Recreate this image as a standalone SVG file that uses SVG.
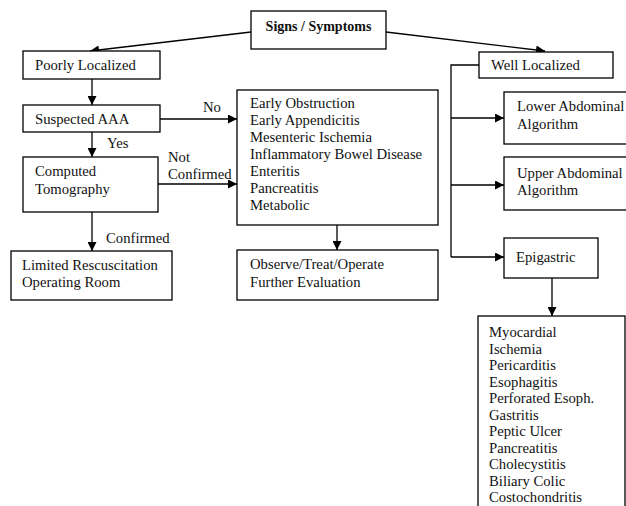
<svg xmlns="http://www.w3.org/2000/svg" width="626" height="506" viewBox="0 0 626 506">
<defs>
<marker id="ah" viewBox="0 0 10 10" refX="10" refY="5" markerWidth="9" markerHeight="9" markerUnits="userSpaceOnUse" orient="auto">
<path d="M0,0 L10,5 L0,10 z" fill="#000"/>
</marker>
<style>
.box{fill:#fff;stroke:#000;stroke-width:1.3}
.t{font-family:"Liberation Serif","Times New Roman",serif;font-size:14.7px;fill:#111}
.c{fill:none;stroke:#000;stroke-width:1.3}
.a{marker-end:url(#ah)}
</style>
</defs>
<rect width="626" height="506" fill="#fff"/>
<g id="connectors">
<path class="c a" d="M251,32 L90,51"/>
<path class="c a" d="M386,32 L545,51"/>
<path class="c a" d="M92,79 L92,105"/>
<path class="c a" d="M160,119 L237,119"/>
<path class="c a" d="M92,132 L92,157"/>
<path class="c a" d="M158,184 L237,184"/>
<path class="c a" d="M92,212 L92,251"/>
<path class="c a" d="M337,225 L337,250"/>
<path class="c" d="M479,65 L451,65 L451,257"/>
<path class="c a" d="M451,118 L504,118"/>
<path class="c a" d="M451,185 L504,185"/>
<path class="c a" d="M451,257 L504,257"/>
<path class="c a" d="M552,278 L552,316"/>
<text class="t" x="203" y="112">No</text>
<text class="t" x="107" y="148">Yes</text>
<text class="t" x="168" y="162">Not</text>
<text class="t" x="168" y="179">Confirmed</text>
<text class="t" x="106" y="243">Confirmed</text>
</g>
<g id="signs">
<rect class="box" x="251" y="11" width="135" height="38"/>
<text class="t" x="318.5" y="31" text-anchor="middle" font-weight="bold" style="font-size:14px">Signs / Symptoms</text>
</g>
<g id="poorly">
<rect class="box" x="23" y="51" width="137" height="28"/>
<text class="t" x="35" y="70">Poorly Localized</text>
</g>
<g id="aaa">
<rect class="box" x="23" y="105" width="137" height="27"/>
<text class="t" x="35" y="124">Suspected AAA</text>
</g>
<g id="ct">
<rect class="box" x="23" y="157" width="135" height="55"/>
<text class="t" x="35" y="176">Computed</text>
<text class="t" x="35" y="194">Tomography</text>
</g>
<g id="limited">
<rect class="box" x="11" y="251" width="161" height="49"/>
<text class="t" x="22" y="270">Limited Rescuscitation</text>
<text class="t" x="22" y="287">Operating Room</text>
</g>
<g id="differential">
<rect class="box" x="237" y="90" width="201" height="135"/>
<text class="t" x="250" y="108">Early Obstruction</text>
<text class="t" x="250" y="125">Early Appendicitis</text>
<text class="t" x="250" y="142">Mesenteric Ischemia</text>
<text class="t" x="250" y="159">Inflammatory Bowel Disease</text>
<text class="t" x="250" y="176">Enteritis</text>
<text class="t" x="250" y="193">Pancreatitis</text>
<text class="t" x="250" y="210">Metabolic</text>
</g>
<g id="observe">
<rect class="box" x="237" y="250" width="201" height="50"/>
<text class="t" x="250" y="269">Observe/Treat/Operate</text>
<text class="t" x="250" y="287">Further Evaluation</text>
</g>
<g id="well">
<rect class="box" x="479" y="52" width="134" height="26"/>
<text class="t" x="491" y="70">Well Localized</text>
</g>
<g id="lower">
<rect class="box" x="504" y="92" width="130" height="52"/>
<text class="t" x="517" y="111">Lower Abdominal</text>
<text class="t" x="517" y="129">Algorithm</text>
</g>
<g id="upper">
<rect class="box" x="504" y="157" width="130" height="53"/>
<text class="t" x="517" y="178">Upper Abdominal</text>
<text class="t" x="517" y="195">Algorithm</text>
</g>
<g id="epigastric">
<rect class="box" x="504" y="238" width="94" height="40"/>
<text class="t" x="516" y="262">Epigastric</text>
</g>
<g id="epi-list">
<rect class="box" x="478" y="316" width="147" height="200"/>
<text class="t" x="489" y="337">Myocardial</text>
<text class="t" x="489" y="353.5">Ischemia</text>
<text class="t" x="489" y="370">Pericarditis</text>
<text class="t" x="489" y="386.5">Esophagitis</text>
<text class="t" x="489" y="403">Perforated Esoph.</text>
<text class="t" x="489" y="419.5">Gastritis</text>
<text class="t" x="489" y="436">Peptic Ulcer</text>
<text class="t" x="489" y="452.5">Pancreatitis</text>
<text class="t" x="489" y="469">Cholecystitis</text>
<text class="t" x="489" y="485.5">Biliary Colic</text>
<text class="t" x="489" y="502">Costochondritis</text>
</g>
</svg>
